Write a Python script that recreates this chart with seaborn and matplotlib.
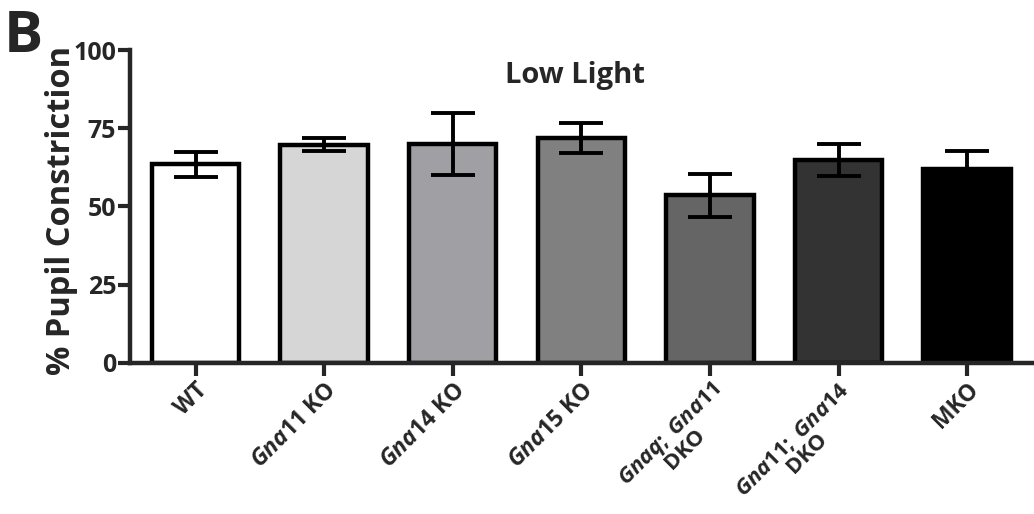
import matplotlib
matplotlib.use("Agg")
import matplotlib.pyplot as plt
import seaborn as sns
import pandas as pd

# Genotypes, mean pupil constriction (%) and error (SEM)
genotypes = ["WT", "Gna11 KO", "Gna14 KO", "Gna15 KO",
             "Gnaq; Gna11 DKO", "Gna11; Gna14 DKO", "MKO"]
tick_labels = [
    "WT",
    r"$\mathit{Gna11}$ KO",
    r"$\mathit{Gna14}$ KO",
    r"$\mathit{Gna15}$ KO",
    r"$\mathit{Gnaq;}$ $\mathit{Gna11}$" + "\nDKO",
    r"$\mathit{Gna11;}$ $\mathit{Gna14}$" + "\nDKO",
    "MKO",
]
means = [63.5, 69.8, 70.0, 72.0, 53.6, 64.8, 62.0]
errors = [4.0, 2.2, 10.0, 4.8, 6.8, 5.2, 5.6]
bar_colors = ["#ffffff", "#d6d6d6", "#a0a0a4", "#808080",
              "#656565", "#333333", "#000000"]

sns.set_style("ticks")
plt.rcParams["font.family"] = ["Open Sans", "DejaVu Sans"]
plt.rcParams["font.weight"] = "bold"
plt.rcParams["mathtext.fontset"] = "custom"
plt.rcParams["mathtext.it"] = "Open Sans:italic:bold"
plt.rcParams["mathtext.rm"] = "Open Sans:bold"
plt.rcParams["mathtext.bf"] = "Open Sans:bold"

df = pd.DataFrame({"genotype": genotypes, "value": means})

fig = plt.figure(figsize=(10.34, 5.14), dpi=100)
ax = fig.add_axes([0.1257, 0.2938, 0.8743, 0.6089])

sns.barplot(data=df, x="genotype", y="value", hue="genotype",
            palette=bar_colors, legend=False, errorbar=None,
            width=0.68, edgecolor="black", linewidth=3.2, ax=ax, zorder=2)

ax.errorbar(range(len(means)), means, yerr=errors, fmt="none",
            ecolor="black", elinewidth=2.8, capsize=16, capthick=2.8,
            zorder=3)

ax.set_ylim(0, 100)
ax.set_xlim(-0.51, 6.52)
ax.set_yticks([0, 25, 50, 75, 100])
ax.set_xticks(range(len(genotypes)))
ax.set_xticklabels(tick_labels, rotation=45, ha="right",
                   rotation_mode="anchor", fontsize=16.5, fontweight="bold",
                   multialignment="center", linespacing=0.9)
for lab in ax.get_xticklabels():
    if "\n" in lab.get_text():
        lab.set_fontsize(15.8)
ax.tick_params(axis="y", labelsize=18, width=3, length=9, pad=1)
ax.tick_params(axis="x", width=3, length=9, pad=2)
for lab in ax.get_yticklabels():
    lab.set_fontweight("bold")

for side in ("top", "right"):
    ax.spines[side].set_visible(False)
for side in ("left", "bottom"):
    ax.spines[side].set_linewidth(3.2)

ax.set_xlabel("")
ax.set_ylabel("% Pupil Constriction", fontsize=23.5, fontweight="bold")
ax.yaxis.set_label_coords(-0.058, 0.489)
ax.text(0.492, 0.92, "Low Light", transform=ax.transAxes, fontsize=21,
        fontweight="bold", ha="center", va="center")

fig.text(0.004, 0.985, "B", fontsize=42, fontweight="bold",
         ha="left", va="top")

fig.savefig("out.png", dpi=100)
